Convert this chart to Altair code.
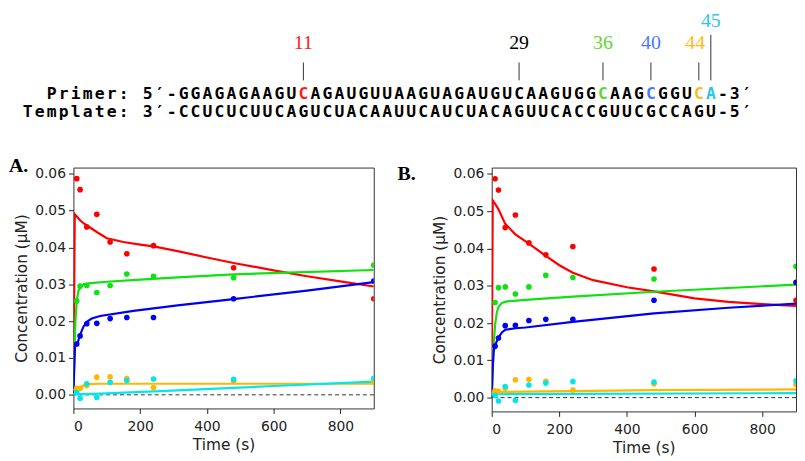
import altair as alt
import pandas as pd

# ---------------- sequence diagram data ----------------
primer_seq = "GGAGAGAAGUCAGAUGUUAAGUAGAUGUCAAGUGGCAAGCGGUCA"
template_seq = "CCUCUCUUCAGUCUACAAUUCAUCUACAGUUCACCGUUCGCCAGU"
prefixes = ["Primer: 5′-", "Template: 3′-"]
suffixes = ["-3′", "-5′"]
site_pos = [11, 29, 36, 40, 44, 45]
site_labels = ["11", "29", "36", "40", "44", "45"]
site_label_x = [11, 29, 36, 40, 43.7, 45]
site_colors = ["#ff1a1a", "#000000", "#5fd62f", "#4a78ff", "#ffb81c", "#2cc6ec"]
highlight = {11: "#ff1a1a", 36: "#5fd62f", 40: "#4a78ff", 44: "#ffb81c", 45: "#2cc6ec"}

# ---------------- kinetics data ----------------
series = ["red", "green", "blue", "orange", "cyan"]
series_colors = ["#ff0000", "#11e011", "#0000f0", "#ffb700", "#00e6ee"]
times = [10, 20, 40, 70, 110, 160, 240, 480, 900]
pts_red = [0.0587, 0.0557, 0.0456, 0.0490, 0.0415, 0.0383, 0.0405, 0.0345, 0.0261]
pts_green = [0.0255, 0.0295, 0.0297, 0.0278, 0.0297, 0.0328, 0.0322, 0.0318, 0.0352]
pts_blue = [0.0138, 0.0160, 0.0193, 0.0194, 0.0207, 0.0210, 0.0210, 0.0261, 0.0309]
pts_orange = [0.0018, 0.0017, 0.0025, 0.0048, 0.0049, 0.0044, 0.0020, 0.0037, 0.0035]
pts_cyan = [0.0006, -0.0009, 0.0030, -0.0007, 0.0034, 0.0039, 0.0043, 0.0042, 0.0045]

# fitted curves, panel A
fitA_red_t = [0, 4, 10, 20, 30, 45, 70, 100, 150, 200, 240, 312, 400, 480, 600, 700, 800, 900]
fitA_red_y = [0, 0.0490, 0.0484, 0.0474, 0.0466, 0.0457, 0.0442, 0.0425, 0.0415, 0.0408, 0.0403,
              0.0390, 0.0373, 0.0358, 0.0338, 0.0322, 0.0308, 0.0294]
fitA_green_t = [0, 3, 6, 10, 15, 22, 30, 40, 60, 100, 200, 312, 480, 640, 900]
fitA_green_y = [0, 0.012, 0.020, 0.0256, 0.0282, 0.0294, 0.0300, 0.0302, 0.0304, 0.0307, 0.0313,
                0.0319, 0.0327, 0.0332, 0.0339]
fitA_blue_t = [0, 2, 5, 10, 14, 20, 30, 40, 55, 80, 180, 312, 480, 700, 900]
fitA_blue_y = [0.0005, 0.006, 0.0135, 0.0140, 0.0145, 0.0163, 0.0185, 0.0198, 0.0207, 0.0214,
               0.0228, 0.0243, 0.0260, 0.0283, 0.0306]
fitA_orange_t = [0, 5, 15, 30, 45, 80, 900]
fitA_orange_y = [0.0012, 0.0015, 0.0019, 0.0026, 0.0029, 0.0030, 0.0030]
fitA_cyan_t = [0, 100, 312, 600, 900]
fitA_cyan_y = [0.0001, 0.0004, 0.0012, 0.0024, 0.0036]

# fitted curves, panel B
fitB_red_t = [0, 3, 10, 20, 40, 70, 110, 160, 200, 240, 300, 400, 480, 600, 700, 800, 900]
fitB_red_y = [0, 0.0529, 0.0520, 0.0505, 0.0466, 0.0438, 0.0413, 0.0380, 0.0355, 0.0335, 0.0315,
              0.0296, 0.0285, 0.0266, 0.0257, 0.0251, 0.0246]
fitB_green_t = [0, 2, 5, 10, 15, 20, 30, 45, 100, 240, 480, 700, 900]
fitB_green_y = [0, 0.005, 0.013, 0.0195, 0.0228, 0.0243, 0.0254, 0.0258, 0.0262, 0.0271, 0.0284,
                0.0294, 0.0303]
fitB_blue_t = [0, 3, 6, 10, 20, 30, 40, 70, 100, 240, 480, 700, 900]
fitB_blue_y = [0, 0.008, 0.0125, 0.0140, 0.0161, 0.0175, 0.0182, 0.0186, 0.0188, 0.0203, 0.0226,
               0.0241, 0.0252]
fitB_orange_t = [0, 5, 10, 20, 100, 480, 900]
fitB_orange_y = [0.0008, 0.0017, 0.0016, 0.0015, 0.0016, 0.0020, 0.0022]
fitB_cyan_t = [0, 900]
fitB_cyan_y = [0.0009, 0.0012]

y_ticks = [0.0, 0.01, 0.02, 0.03, 0.04, 0.05, 0.06]
x_ticks = [0, 200, 400, 600, 800]

# ---------------- build tables ----------------
ROW_P, ROW_T = 83.5, 101.5
seq_rows = []
for row_y, seq, pre, suf, is_primer in [(ROW_P, primer_seq, prefixes[0], suffixes[0], True),
                                        (ROW_T, template_seq, prefixes[1], suffixes[1], False)]:
    # prefix characters end at index 0
    for k, ch in enumerate(pre):
        if ch != " ":
            seq_rows.append({"i": k - len(pre) + 1, "ch": ch, "row": row_y, "col": "#000000"})
    for i, ch in enumerate(seq, start=1):
        col = highlight.get(i, "#000000") if is_primer else "#000000"
        seq_rows.append({"i": i, "ch": ch, "row": row_y, "col": col})
    for k, ch in enumerate(suf):
        seq_rows.append({"i": len(seq) + 1 + k, "ch": ch, "row": row_y, "col": "#000000"})
seq_df = pd.DataFrame(seq_rows)
tick_df = pd.DataFrame({"i": site_pos, "y1": [52, 52, 52, 52, 52, 24], "y2": [70] * 6})
lab_df = pd.DataFrame({"i": site_label_x, "txt": site_labels,
                       "row": [32, 32, 32, 32, 32, 10], "col": site_colors})

xs_top = alt.Scale(domain=[-8.19, 49.71], nice=False, zero=False)
ys_top = alt.Scale(domain=[0, 130], nice=False, zero=False, reverse=True)

def tx(field="i"):
    return alt.X(f"{field}:Q", scale=xs_top, axis=None)

def ty(field="row"):
    return alt.Y(f"{field}:Q", scale=ys_top, axis=None)

seq_layer = alt.Chart(seq_df).mark_text(
    align="center", baseline="middle", font="DejaVu Sans Mono", fontSize=16.5,
    fontWeight="bold").encode(
    x=tx(), y=ty(), text="ch:N", color=alt.Color("col:N", scale=None))
tick_layer = alt.Chart(tick_df).mark_rule(color="#333", strokeWidth=1).encode(
    x=tx(), y=ty("y1"), y2="y2:Q")
lab_layer = alt.Chart(lab_df).mark_text(align="center", baseline="middle",
                                        font="Liberation Serif", fontSize=20).encode(
    x=tx(), y=ty(), text="txt:N", color=alt.Color("col:N", scale=None))

top = alt.layer(tick_layer, seq_layer, lab_layer).properties(
    width=700, height=130, view=alt.ViewBackground(stroke="transparent"))

# ---------------- panels ----------------
pt_rows = []
for s, vals in zip(series, [pts_red, pts_green, pts_blue, pts_orange, pts_cyan]):
    for t, v in zip(times, vals):
        pt_rows.append({"series": s, "t": t, "c": v})
points_df = pd.DataFrame(pt_rows)

def line_table(spec):
    rows = []
    for s, (ts, vs) in zip(series, spec):
        for t, v in zip(ts, vs):
            rows.append({"series": s, "t": t, "c": v})
    return pd.DataFrame(rows)

linesA = line_table([(fitA_red_t, fitA_red_y), (fitA_green_t, fitA_green_y),
                     (fitA_blue_t, fitA_blue_y), (fitA_orange_t, fitA_orange_y),
                     (fitA_cyan_t, fitA_cyan_y)])
linesB = line_table([(fitB_red_t, fitB_red_y), (fitB_green_t, fitB_green_y),
                     (fitB_blue_t, fitB_blue_y), (fitB_orange_t, fitB_orange_y),
                     (fitB_cyan_t, fitB_cyan_y)])
zero_df = pd.DataFrame({"c": [0.0]})

axis_common = dict(tickSize=5, labelFont="DejaVu Sans", labelFontSize=14,
                   titleFont="DejaVu Sans", titleFontSize=15.5, titleFontWeight="normal",
                   domain=False, grid=False, tickColor="#222", labelColor="#222",
                   titleColor="#222")
color_enc = alt.Color("series:N", scale=alt.Scale(domain=series, range=series_colors), legend=None)


def panel(lines_df, w, h, letter, dx, dy):
    xs = alt.Scale(domain=[0, 900], nice=False, zero=False)
    ys = alt.Scale(domain=[-0.0037, 0.0617], nice=False, zero=False)
    xenc = alt.X("t:Q", scale=xs, title="Time (s)",
                 axis=alt.Axis(values=x_ticks, labelPadding=6, titlePadding=4, **axis_common))
    yenc = alt.Y("c:Q", scale=ys, title="Concentration (μM)",
                 axis=alt.Axis(values=y_ticks, format=".2f", labelPadding=3, titlePadding=5,
                               **axis_common))
    zero = alt.Chart(zero_df).mark_rule(color="#333", strokeDash=[4, 3], strokeWidth=1).encode(y=yenc)
    lines = alt.Chart(lines_df).mark_line(strokeWidth=2.2, clip=True).encode(
        x=xenc, y=yenc, color=color_enc, detail="series:N", order="t:Q")
    pts = alt.Chart(points_df).mark_circle(size=32, opacity=1, clip=True).encode(
        x=xenc, y=yenc, color=color_enc)
    return alt.layer(zero, lines, pts).properties(
        width=w, height=h,
        title=alt.TitleParams(letter, anchor="start", frame="group", font="Liberation Serif",
                              fontSize=20, fontWeight="bold", color="black", offset=0,
                              baseline="middle", align="left", dx=dx, dy=dy))

pA = panel(linesA, 303, 243, "A.", -65, 19)
pB = panel(linesB, 307, 246, "B.", -95, 27)

bottom = alt.hconcat(pA, pB, spacing=119, bounds="flush")
chart = alt.vconcat(top, bottom, spacing=28, bounds="flush").properties(padding=0).configure_view(
    stroke="#333", strokeWidth=1)

chart.save("out.html", embed_options={"renderer": "svg", "actions": False})
